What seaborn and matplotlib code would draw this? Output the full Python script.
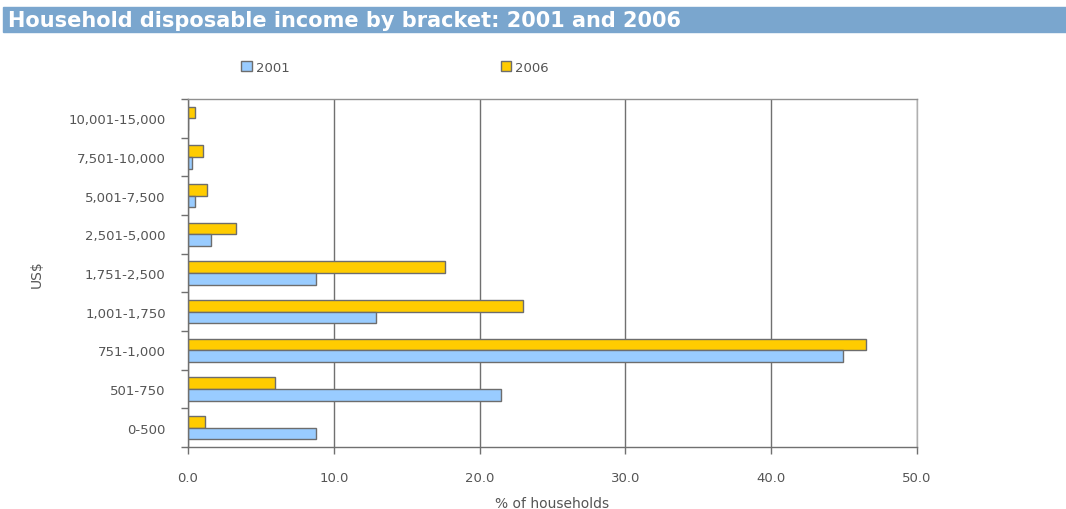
import matplotlib
matplotlib.use("Agg")
import matplotlib.pyplot as plt
import seaborn as sns
import pandas as pd
from matplotlib.patches import Rectangle, Patch

categories = ["10,001-15,000", "7,501-10,000", "5,001-7,500", "2,501-5,000",
              "1,751-2,500", "1,001-1,750", "751-1,000", "501-750", "0-500"]
values_2001 = [0.0, 0.3, 0.5, 1.6, 8.8, 12.9, 44.9, 21.5, 8.8]
values_2006 = [0.5, 1.0, 1.3, 3.3, 17.6, 23.0, 46.5, 6.0, 1.2]
years = ["2001", "2006"]
xticks = [0, 10, 20, 30, 40, 50]

df = pd.DataFrame({
    "bracket": categories * 2,
    "year": ["2006"] * len(categories) + ["2001"] * len(categories),
    "value": values_2006 + values_2001,
})

sns.set_theme(style="white")
plt.rcParams["font.family"] = ["DejaVu Sans"]

fig = plt.figure(figsize=(10.66, 5.10), dpi=100)
ax = fig.add_axes([188 / 1066, 1 - 448 / 510, (917 - 188) / 1066, (448 - 100) / 510])

palette = {"2001": "#99CCFF", "2006": "#FFCC00"}
sns.barplot(data=df, y="bracket", x="value", hue="year", order=categories,
            hue_order=["2006", "2001"], palette=palette, orient="h",
            width=0.6, edgecolor="#6d6d6d", linewidth=1.0, ax=ax, legend=False,
            saturation=1)

ax.set_xlim(0, 50)
ax.set_xticks(xticks)
ax.set_xticklabels([f"{t:.1f}" for t in xticks])
ax.grid(axis="x", color="#707070", linewidth=1.0)
ax.set_axisbelow(True)
for s in ax.spines.values():
    s.set_color("#b0b0b0")
    s.set_linewidth(1.0)
ax.spines["left"].set_color("#707070")
ax.spines["bottom"].set_color("#707070")
ax.spines["top"].set_color("#909090")

ax.set_yticks(range(len(categories)))
ax.set_yticklabels(categories)
ax.tick_params(axis="y", length=0, pad=16, labelsize=9.5, labelcolor="#555555")
ax.tick_params(axis="x", length=5, width=1, color="#707070", direction="out",
               pad=12, labelsize=9.5, labelcolor="#555555", bottom=True)
ax.set_yticks([i + 0.5 for i in range(-1, len(categories))], minor=True)
ax.tick_params(axis="y", which="minor", length=5, width=1, color="#707070",
               direction="out", left=True)

ax.set_ylabel("US$", fontsize=10, color="#555555", labelpad=18)
ax.set_xlabel("% of households", fontsize=10, color="#555555", labelpad=9)

# title bar
fig.patches.append(Rectangle((3 / 1066, 1 - 33 / 510), 1, 25 / 510,
                             transform=fig.transFigure, color="#7AA6CE", zorder=0))
fig.text(8 / 1066, 1 - 21 / 510, "Household disposable income by bracket: 2001 and 2006",
         color="white", fontsize=15, fontweight="bold", va="center", ha="left")

handles = [Patch(facecolor=palette[y], edgecolor="#6d6d6d") for y in years]
fig.legend(handles, years, loc="center", bbox_to_anchor=(395 / 1066, 1 - 68 / 510),
           ncol=2, frameon=False, columnspacing=16, handlelength=0.8,
           handleheight=0.8, handletextpad=0.3, fontsize=9.5, labelcolor="#555555")

fig.savefig("out.png", dpi=100)
